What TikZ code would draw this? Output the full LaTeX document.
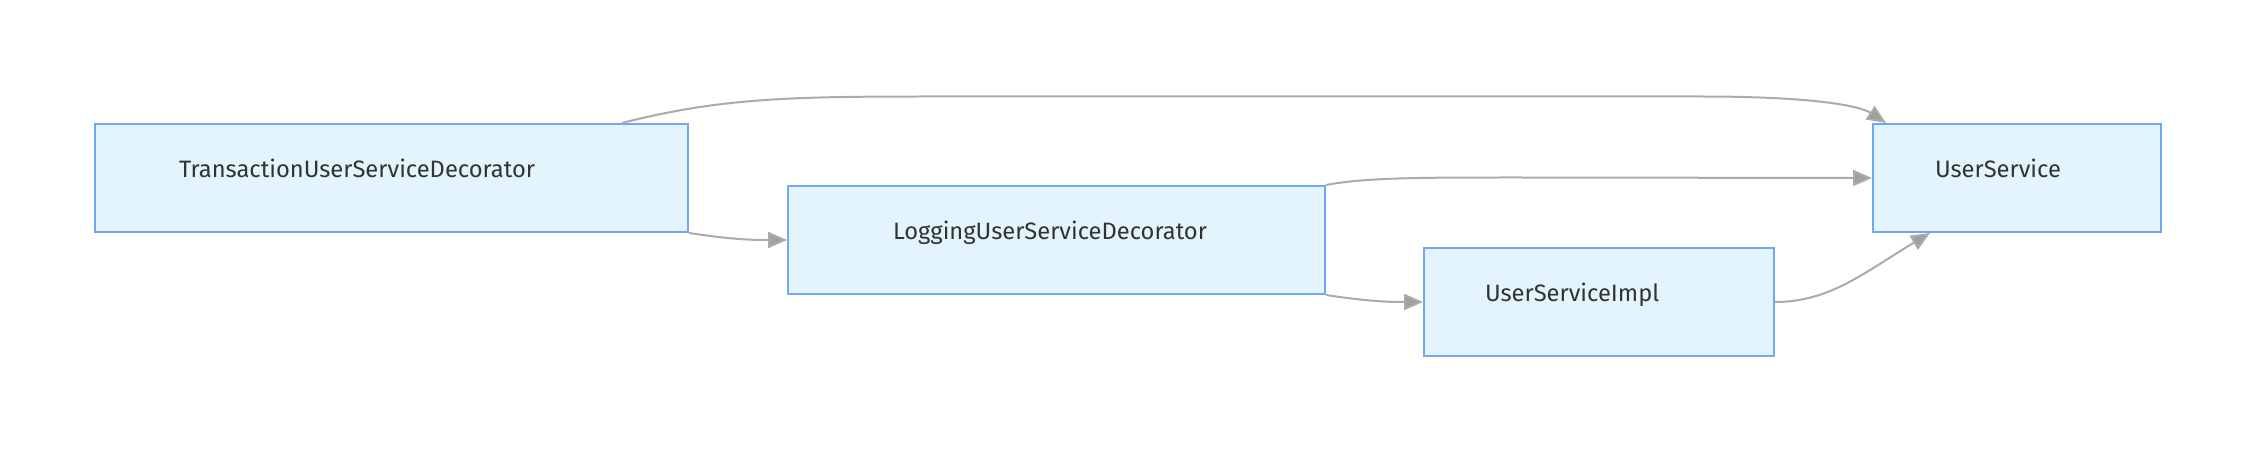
\documentclass[tikz,border=0pt]{standalone}
\usepackage{fontspec}
\setmainfont{Fira Sans}
\usetikzlibrary{arrows.meta}
\definecolor{boxfill}{HTML}{E3F4FD}
\definecolor{boxline}{HTML}{72A6F8}
\definecolor{edgegray}{HTML}{ABABAB}
\definecolor{tipgray}{HTML}{A0A0A0}
\definecolor{txt}{HTML}{333333}
\begin{document}
\begin{tikzpicture}[x=0.02cm,y=-0.02cm]
  \tikzstyle{svc}=[draw=boxline, fill=boxfill, line width=0.04cm, rectangle, align=left,
                   minimum height=2.16cm, inner ysep=0pt, text height=0.33cm, text depth=0.34cm,
                   text=txt, font=\fontsize{13.5}{16}\selectfont]
  \tikzstyle{edge}=[draw=edgegray, line width=0.04cm, >={Triangle[length=0.38cm,width=0.32cm,fill=tipgray]}]
  \useasboundingbox (0,0) rectangle (2258,452);
  \node[svc, text width=8.5cm,  inner xsep=1.68cm] (T) at (391.5,178) {TransactionUserServiceDecorator};
  \node[svc, text width=6.54cm, inner xsep=2.1cm]  (L) at (1056.5,240) {LoggingUserServiceDecorator};
  \node[svc, text width=4.56cm, inner xsep=1.22cm] (I) at (1599,302) {UserServiceImpl};
  \node[svc, text width=3.28cm, inner xsep=1.24cm] (U) at (2017,178) {UserService};
  \draw [edge,->] ([xshift=4.61cm]T.north) .. controls (720,98) and (790,96.5) .. (930,96.5)
        -- (1700,96.5) .. controls (1815,96.5) and (1860,106) .. ([xshift=-2.62cm]U.north);
  \draw [edge,->] (T.south east) .. controls (735,240) and (755,240) .. (L.west);
  \draw [edge,->] (L.north east) .. controls (1365,177.5) and (1420,177.5) .. (1520,177.5) -- (U.west);
  \draw [edge,->] (L.south east) .. controls (1372,302) and (1392,302) .. (I.west);
  \draw [edge,->] (I.east) .. controls (1830,302) and (1865,272) .. ([xshift=-1.74cm]U.south);
\end{tikzpicture}
\end{document}
